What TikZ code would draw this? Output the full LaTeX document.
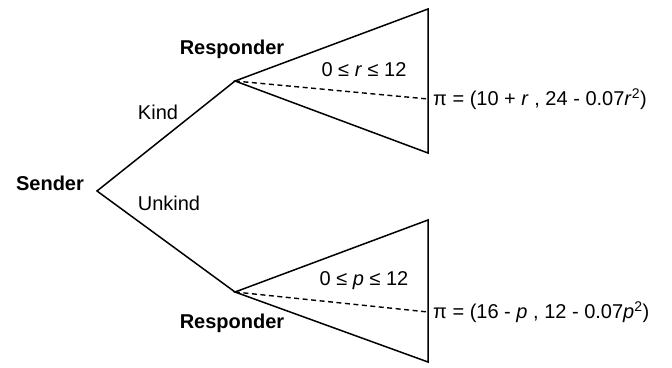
\documentclass[tikz,border=0pt]{standalone}
\usepackage{fontspec}
\setmainfont{Liberation Sans}
\begin{document}
\begin{tikzpicture}[x=1pt,y=-1pt,
  branch/.style={line width=1.5pt, line join=miter},
  info/.style={line width=1.4pt, dash pattern=on 5pt off 3.5pt},
  player/.style={font=\fontsize{20}{23}\selectfont\bfseries, inner sep=0pt},
  act/.style={font=\fontsize{20}{23}\selectfont, inner sep=0pt},
  payoff/.style={font=\fontsize{20}{23}\selectfont, inner sep=0pt, anchor=west}]
\useasboundingbox (0,0) rectangle (672,367);

% decision vertices
\coordinate (S) at (97,191);
\coordinate (R1) at (235,81);
\coordinate (R2) at (235,292);
% continuum fans
\coordinate (T1) at (428,9);
\coordinate (B1) at (428,153);
\coordinate (D1) at (428,99);
\coordinate (T2) at (428,220);
\coordinate (B2) at (428,362);
\coordinate (D2) at (428,312);

% tree branches
\draw[branch] (R1) -- (S) -- (R2);
\draw[branch] (R1) -- (T1) -- (B1) -- cycle;
\draw[branch] (R2) -- (T2) -- (B2) -- cycle;
\draw[info] (R1) -- (D1);
\draw[info] (R2) -- (D2);

% players and actions
\node[player] (sender) at (50,183) {Sender};
\node[player] (resp1) at (232,49) {Responder};
\node[player] (resp2) at (232,323) {Responder};
\node[act] (kind) at (158,112) {Kind};
\node[act] (unkind) at (169,203) {Unkind};
\node[act] (rng1) at (364,70) {0 ≤ \textit{r} ≤ 12};
\node[act] (rng2) at (364,281) {0 ≤ \textit{p} ≤ 12};

% payoffs
\node[payoff] (pay1) at (433,99) {π = (10 + \textit{r} , 24 - 0.07\textit{r}\textsuperscript{2})};
\node[payoff] (pay2) at (433,312) {π = (16 - \textit{p} , 12 - 0.07\textit{p}\textsuperscript{2})};
\end{tikzpicture}
\end{document}
